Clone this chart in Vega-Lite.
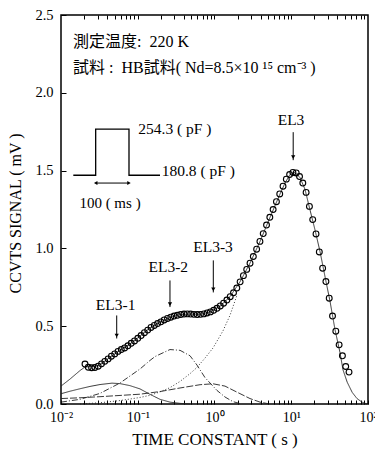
{
  "$schema": "https://vega.github.io/schema/vega-lite/v6.json",
  "width": 307,
  "height": 389,
  "autosize": {"type": "none"},
  "padding": {"left": 61, "top": 15, "right": 7, "bottom": 53},
  "background": "white",
  "config": {
    "view": {"stroke": "black", "strokeWidth": 1.5},
    "font": "Liberation Serif",
    "axis": {"grid": false, "domain": false, "tickColor": "black", "labelColor": "black", "titleColor": "black", "labelFont": "Liberation Serif", "titleFont": "Liberation Serif", "titleFontWeight": "normal"}
  },
  "datasets": {
    "circ": [
      {"t": 0.02054, "v": 0.257}, {"t": 0.02268, "v": 0.236}, {"t": 0.02504, "v": 0.233}, {"t": 0.02765, "v": 0.235},
      {"t": 0.03053, "v": 0.243}, {"t": 0.03371, "v": 0.258}, {"t": 0.03722, "v": 0.274}, {"t": 0.04109, "v": 0.290},
      {"t": 0.04537, "v": 0.307}, {"t": 0.05009, "v": 0.322}, {"t": 0.05531, "v": 0.338}, {"t": 0.06107, "v": 0.350},
      {"t": 0.06742, "v": 0.360}, {"t": 0.07444, "v": 0.374}, {"t": 0.08219, "v": 0.390}, {"t": 0.09075, "v": 0.405},
      {"t": 0.1002, "v": 0.422}, {"t": 0.1106, "v": 0.440}, {"t": 0.1221, "v": 0.458}, {"t": 0.1348, "v": 0.475},
      {"t": 0.1488, "v": 0.492}, {"t": 0.1643, "v": 0.505}, {"t": 0.1814, "v": 0.517}, {"t": 0.2003, "v": 0.528},
      {"t": 0.2211, "v": 0.540}, {"t": 0.2441, "v": 0.550}, {"t": 0.2696, "v": 0.558}, {"t": 0.2976, "v": 0.565},
      {"t": 0.3286, "v": 0.570}, {"t": 0.3628, "v": 0.575}, {"t": 0.4006, "v": 0.578}, {"t": 0.4423, "v": 0.579},
      {"t": 0.4884, "v": 0.578}, {"t": 0.5392, "v": 0.576}, {"t": 0.5954, "v": 0.575}, {"t": 0.6573, "v": 0.576},
      {"t": 0.7258, "v": 0.579}, {"t": 0.8013, "v": 0.585}, {"t": 0.8847, "v": 0.592}, {"t": 0.9766, "v": 0.602},
      {"t": 1.078, "v": 0.615}, {"t": 1.190, "v": 0.630}, {"t": 1.314, "v": 0.648}, {"t": 1.451, "v": 0.668},
      {"t": 1.602, "v": 0.690}, {"t": 1.769, "v": 0.715}, {"t": 1.953, "v": 0.745}, {"t": 2.157, "v": 0.785},
      {"t": 2.381, "v": 0.825}, {"t": 2.629, "v": 0.865}, {"t": 2.903, "v": 0.905}, {"t": 3.205, "v": 0.948},
      {"t": 3.539, "v": 0.995}, {"t": 3.907, "v": 1.045}, {"t": 4.314, "v": 1.095}, {"t": 4.763, "v": 1.150},
      {"t": 5.258, "v": 1.200}, {"t": 5.806, "v": 1.250}, {"t": 6.411, "v": 1.300}, {"t": 7.078, "v": 1.350},
      {"t": 7.815, "v": 1.400}, {"t": 8.627, "v": 1.445}, {"t": 9.522, "v": 1.475}, {"t": 10.51, "v": 1.488},
      {"t": 11.61, "v": 1.485}, {"t": 12.82, "v": 1.462}, {"t": 14.15, "v": 1.420}, {"t": 15.62, "v": 1.360},
      {"t": 17.25, "v": 1.270}, {"t": 19.04, "v": 1.185}, {"t": 21.02, "v": 1.093}, {"t": 23.21, "v": 0.977},
      {"t": 25.63, "v": 0.873}, {"t": 28.29, "v": 0.787}, {"t": 31.24, "v": 0.680}, {"t": 34.49, "v": 0.565},
      {"t": 38.08, "v": 0.468}, {"t": 42.05, "v": 0.380}, {"t": 46.42, "v": 0.310}, {"t": 51.25, "v": 0.241},
      {"t": 56.59, "v": 0.205}
    ],
    "curves": [
      {"c": "fit", "t": 0.01, "v": 0.115}, {"c": "fit", "t": 0.01309, "v": 0.16}, {"c": "fit", "t": 0.0177, "v": 0.215},
      {"c": "fit", "t": 0.02054, "v": 0.238}, {"c": "fit", "t": 0.0239, "v": 0.24}, {"c": "fit", "t": 0.02773, "v": 0.241},
      {"c": "fit", "t": 0.0322, "v": 0.252}, {"c": "fit", "t": 0.0435, "v": 0.30}, {"c": "fit", "t": 0.0587, "v": 0.345},
      {"c": "fit", "t": 0.0792, "v": 0.385}, {"c": "fit", "t": 0.107, "v": 0.436}, {"c": "fit", "t": 0.1445, "v": 0.49},
      {"c": "fit", "t": 0.195, "v": 0.525}, {"c": "fit", "t": 0.263, "v": 0.556}, {"c": "fit", "t": 0.3554, "v": 0.575},
      {"c": "fit", "t": 0.48, "v": 0.578}, {"c": "fit", "t": 0.648, "v": 0.576}, {"c": "fit", "t": 0.874, "v": 0.591},
      {"c": "fit", "t": 1.18, "v": 0.628}, {"c": "fit", "t": 1.592, "v": 0.69}, {"c": "fit", "t": 2.148, "v": 0.785},
      {"c": "fit", "t": 2.90, "v": 0.905}, {"c": "fit", "t": 3.92, "v": 1.045}, {"c": "fit", "t": 5.29, "v": 1.20},
      {"c": "fit", "t": 7.14, "v": 1.35}, {"c": "fit", "t": 8.29, "v": 1.42}, {"c": "fit", "t": 9.63, "v": 1.475},
      {"c": "fit", "t": 11.19, "v": 1.488}, {"c": "fit", "t": 13.0, "v": 1.455}, {"c": "fit", "t": 15.1, "v": 1.38},
      {"c": "fit", "t": 17.5, "v": 1.25}, {"c": "fit", "t": 20.37, "v": 1.12}, {"c": "fit", "t": 23.7, "v": 0.98},
      {"c": "fit", "t": 27.5, "v": 0.82}, {"c": "fit", "t": 32.0, "v": 0.66}, {"c": "fit", "t": 37.1, "v": 0.48},
      {"c": "fit", "t": 43.2, "v": 0.33}, {"c": "fit", "t": 47.2, "v": 0.22}, {"c": "fit", "t": 53.6, "v": 0.14},
      {"c": "fit", "t": 62.2, "v": 0.075}, {"c": "fit", "t": 71.9, "v": 0.035}, {"c": "fit", "t": 83.6, "v": 0.012},
      {"c": "fit", "t": 97.1, "v": 0.0},
      {"c": "EL3-1", "t": 0.01, "v": 0.066}, {"c": "EL3-1", "t": 0.01309, "v": 0.082}, {"c": "EL3-1", "t": 0.0177, "v": 0.098},
      {"c": "EL3-1", "t": 0.0239, "v": 0.113}, {"c": "EL3-1", "t": 0.0322, "v": 0.125}, {"c": "EL3-1", "t": 0.04618, "v": 0.134},
      {"c": "EL3-1", "t": 0.0587, "v": 0.131}, {"c": "EL3-1", "t": 0.0792, "v": 0.118}, {"c": "EL3-1", "t": 0.107, "v": 0.097},
      {"c": "EL3-1", "t": 0.1445, "v": 0.062}, {"c": "EL3-1", "t": 0.195, "v": 0.03}, {"c": "EL3-1", "t": 0.263, "v": 0.012},
      {"c": "EL3-1", "t": 0.3554, "v": 0.004}, {"c": "EL3-1", "t": 0.48, "v": 0.0},
      {"c": "EL3-2", "t": 0.01, "v": 0.012}, {"c": "EL3-2", "t": 0.0177, "v": 0.03}, {"c": "EL3-2", "t": 0.0322, "v": 0.068},
      {"c": "EL3-2", "t": 0.0587, "v": 0.135}, {"c": "EL3-2", "t": 0.107, "v": 0.225}, {"c": "EL3-2", "t": 0.1445, "v": 0.28},
      {"c": "EL3-2", "t": 0.1679, "v": 0.305}, {"c": "EL3-2", "t": 0.263, "v": 0.35}, {"c": "EL3-2", "t": 0.3554, "v": 0.345},
      {"c": "EL3-2", "t": 0.48, "v": 0.31}, {"c": "EL3-2", "t": 0.5916, "v": 0.25}, {"c": "EL3-2", "t": 0.7516, "v": 0.17},
      {"c": "EL3-2", "t": 1.078, "v": 0.087}, {"c": "EL3-2", "t": 1.37, "v": 0.045}, {"c": "EL3-2", "t": 1.742, "v": 0.015},
      {"c": "EL3-2", "t": 2.148, "v": 0.003},
      {"c": "EL3-3", "t": 0.01, "v": 0.035}, {"c": "EL3-3", "t": 0.0177, "v": 0.04}, {"c": "EL3-3", "t": 0.0322, "v": 0.047},
      {"c": "EL3-3", "t": 0.0587, "v": 0.055}, {"c": "EL3-3", "t": 0.107, "v": 0.063}, {"c": "EL3-3", "t": 0.195, "v": 0.08},
      {"c": "EL3-3", "t": 0.3554, "v": 0.103}, {"c": "EL3-3", "t": 0.648, "v": 0.124}, {"c": "EL3-3", "t": 0.956, "v": 0.13},
      {"c": "EL3-3", "t": 1.37, "v": 0.115}, {"c": "EL3-3", "t": 1.965, "v": 0.076}, {"c": "EL3-3", "t": 2.90, "v": 0.035},
      {"c": "EL3-3", "t": 3.92, "v": 0.012}, {"c": "EL3-3", "t": 4.98, "v": 0.002},
      {"c": "EL3", "t": 0.0177, "v": 0.0}, {"c": "EL3", "t": 0.0322, "v": 0.008}, {"c": "EL3", "t": 0.0587, "v": 0.022},
      {"c": "EL3", "t": 0.107, "v": 0.042}, {"c": "EL3", "t": 0.1445, "v": 0.056}, {"c": "EL3", "t": 0.195, "v": 0.078},
      {"c": "EL3", "t": 0.263, "v": 0.105}, {"c": "EL3", "t": 0.3554, "v": 0.145}, {"c": "EL3", "t": 0.48, "v": 0.195},
      {"c": "EL3", "t": 0.5916, "v": 0.235}, {"c": "EL3", "t": 0.7516, "v": 0.295}, {"c": "EL3", "t": 0.956, "v": 0.36},
      {"c": "EL3", "t": 1.29, "v": 0.47}, {"c": "EL3", "t": 1.592, "v": 0.57}, {"c": "EL3", "t": 1.965, "v": 0.70}
    ],
    "arrows": [
      {"name": "EL3-1", "t": 0.0532, "v1": 0.569, "v2": 0.421, "lt": 0.0515, "lv": 0.634},
      {"name": "EL3-2", "t": 0.263, "v1": 0.794, "v2": 0.623, "lt": 0.25, "lv": 0.882},
      {"name": "EL3-3", "t": 0.965, "v1": 0.923, "v2": 0.717, "lt": 0.956, "lv": 1.010},
      {"name": "EL3", "t": 10.6, "v1": 1.747, "v2": 1.567, "lt": 9.93, "lv": 1.824}
    ],
    "pulse": [
      {"o": 1, "t": 0.01446, "v": 1.47}, {"o": 2, "t": 0.0283, "v": 1.47}, {"o": 3, "t": 0.0283, "v": 1.766},
      {"o": 4, "t": 0.0769, "v": 1.766}, {"o": 5, "t": 0.0769, "v": 1.47}, {"o": 6, "t": 0.195, "v": 1.47}
    ],
    "width": [{"t1": 0.0283, "t2": 0.0769, "v": 1.42}],
    "whead": [{"t": 0.0283, "v": 1.42, "sh": "l"}, {"t": 0.0769, "v": 1.42, "sh": "r"}],
    "htext": [
      {"t": 0.01433, "v": 2.326, "s": "測定温度:\u00a0 220 K"},
      {"t": 0.01433, "v": 2.159, "s": "試料\u00a0:\u00a0\u00a0HB試料(\u00a0Nd=8.5×10\u00a0¹⁵\u00a0cm⁻³\u00a0)"}
    ],
    "ltext": [
      {"t": 0.1016, "v": 1.766, "s": "254.3 ( pF )"},
      {"t": 0.205, "v": 1.496, "s": "180.8 ( pF )"}
    ],
    "ctext": [
      {"t": 0.0435, "v": 1.29, "s": "100 ( ms )"}
    ]
  },
  "resolve": {"axis": {"x": "independent", "y": "independent"}},
  "layer": [
    {
      "data": {"name": "curves"},
      "mark": {"type": "line", "stroke": "#222", "strokeWidth": 0.9},
      "encoding": {
        "x": {"field": "t", "type": "quantitative", "scale": {"type": "log", "domain": [0.01, 100], "nice": false},
          "axis": {"orient": "top", "labels": false, "title": null, "tickSize": -4,
            "values": [0.02,0.03,0.04,0.05,0.06,0.07,0.08,0.09,0.1,0.2,0.3,0.4,0.5,0.6,0.7,0.8,0.9,1,2,3,4,5,6,7,8,9,10,20,30,40,50,60,70,80,90]}},
        "y": {"field": "v", "type": "quantitative", "scale": {"domain": [0, 2.5], "nice": false}, "axis": null},
        "strokeDash": {"field": "c", "type": "nominal", "legend": null,
          "scale": {"domain": ["fit", "EL3-1", "EL3-2", "EL3-3", "EL3"], "range": [[1, 0], [1, 0], [6, 2, 1, 2], [7, 2], [1, 2]]}}
      }
    },
    {
      "data": {"name": "circ"},
      "mark": {"type": "point", "shape": "circle", "filled": false, "size": 34, "stroke": "black", "strokeWidth": 1.1, "opacity": 1},
      "encoding": {
        "x": {"field": "t", "type": "quantitative",
          "axis": {"orient": "bottom", "title": "TIME CONSTANT ( s )", "titleFontSize": 17, "titleY": 40, "titleBaseline": "alphabetic",
            "tickSize": -4, "labelPadding": 10, "labelFontSize": 14, "labelFlush": false, "labelOverlap": false,
            "values": [0.01,0.02,0.03,0.04,0.05,0.06,0.07,0.08,0.09,0.1,0.2,0.3,0.4,0.5,0.6,0.7,0.8,0.9,1,2,3,4,5,6,7,8,9,10,20,30,40,50,60,70,80,90,100],
            "labelExpr": "datum.value == 0.01 ? '10⁻²' : datum.value == 0.1 ? '10⁻¹' : datum.value == 1 ? '10⁰' : datum.value == 10 ? '10¹' : datum.value == 100 ? '10²' : ''"}},
        "y": {"field": "v", "type": "quantitative",
          "axis": {"orient": "left", "title": "CCVTS SIGNAL ( mV )", "titleFontSize": 16, "titleAngle": -90, "titleX": -46, "titleY": 198, "titleBaseline": "middle", "titleAlign": "center",
            "values": [0, 0.5, 1, 1.5, 2, 2.5], "format": ".1f", "tickSize": -5, "labelPadding": 13, "labelFontSize": 14.5}}
      }
    },
    {
      "data": {"name": "arrows"},
      "mark": {"type": "rule", "stroke": "black", "strokeWidth": 1},
      "encoding": {
        "x": {"field": "t", "type": "quantitative", "axis": null},
        "y": {"field": "v1", "type": "quantitative", "axis": null},
        "y2": {"field": "v2"}
      }
    },
    {
      "data": {"name": "arrows"},
      "mark": {"type": "point", "shape": "triangle-down", "filled": true, "size": 18, "color": "black", "opacity": 1, "yOffset": -3},
      "encoding": {
        "x": {"field": "t", "type": "quantitative", "axis": null},
        "y": {"field": "v2", "type": "quantitative", "axis": null}
      }
    },
    {
      "data": {"name": "arrows"},
      "mark": {"type": "text", "fontSize": 15.5, "align": "center", "baseline": "middle", "color": "black", "font": "Liberation Serif"},
      "encoding": {
        "x": {"field": "lt", "type": "quantitative", "axis": null},
        "y": {"field": "lv", "type": "quantitative", "axis": null},
        "text": {"field": "name"}
      }
    },
    {
      "data": {"name": "pulse"},
      "mark": {"type": "line", "stroke": "black", "strokeWidth": 1.3},
      "encoding": {
        "x": {"field": "t", "type": "quantitative", "axis": null},
        "y": {"field": "v", "type": "quantitative", "axis": null},
        "order": {"field": "o"}
      }
    },
    {
      "data": {"name": "width"},
      "mark": {"type": "rule", "stroke": "black", "strokeWidth": 1},
      "encoding": {
        "x": {"field": "t1", "type": "quantitative", "axis": null},
        "x2": {"field": "t2"},
        "y": {"field": "v", "type": "quantitative", "axis": null}
      }
    },
    {
      "data": {"name": "whead"},
      "mark": {"type": "point", "filled": true, "size": 16, "color": "black", "opacity": 1},
      "encoding": {
        "x": {"field": "t", "type": "quantitative", "axis": null},
        "y": {"field": "v", "type": "quantitative", "axis": null},
        "shape": {"field": "sh", "type": "nominal", "legend": null, "scale": {"domain": ["l", "r"], "range": ["triangle-left", "triangle-right"]}}
      }
    },
    {
      "data": {"name": "htext"},
      "mark": {"type": "text", "fontSize": 16, "align": "left", "baseline": "middle", "color": "black", "font": "Liberation Serif, Noto Sans CJK JP"},
      "encoding": {
        "x": {"field": "t", "type": "quantitative", "axis": null},
        "y": {"field": "v", "type": "quantitative", "axis": null},
        "text": {"field": "s"}
      }
    },
    {
      "data": {"name": "ltext"},
      "mark": {"type": "text", "fontSize": 15.5, "align": "left", "baseline": "middle", "color": "black", "font": "Liberation Serif"},
      "encoding": {
        "x": {"field": "t", "type": "quantitative", "axis": null},
        "y": {"field": "v", "type": "quantitative", "axis": null},
        "text": {"field": "s"}
      }
    },
    {
      "data": {"name": "ctext"},
      "mark": {"type": "text", "fontSize": 15, "align": "center", "baseline": "middle", "color": "black", "font": "Liberation Serif"},
      "encoding": {
        "x": {"field": "t", "type": "quantitative", "axis": null},
        "y": {"field": "v", "type": "quantitative", "axis": null},
        "text": {"field": "s"}
      }
    }
  ]
}
